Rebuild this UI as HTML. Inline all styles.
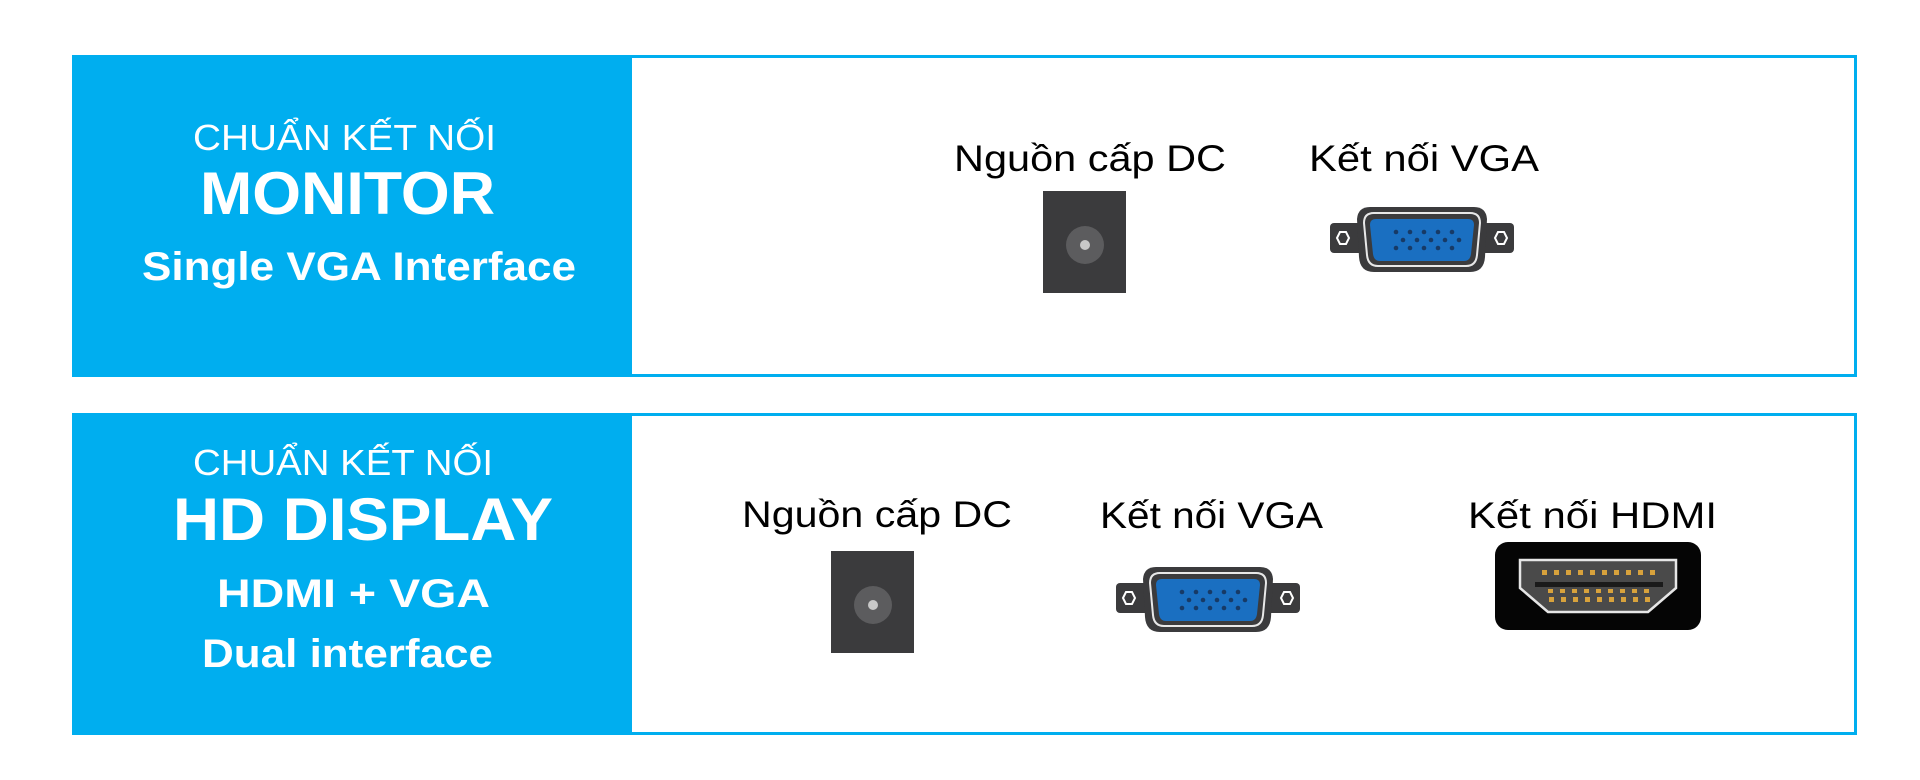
<!DOCTYPE html>
<html><head><meta charset="utf-8"><style>
html,body{margin:0;padding:0;background:#fff;width:1920px;height:780px;overflow:hidden}
svg{display:block}
text{font-family:"Liberation Sans",sans-serif}
</style></head><body>
<svg width="1920" height="780" viewBox="0 0 1920 780" xmlns="http://www.w3.org/2000/svg">
<defs>
<g id="vga">
  <rect x="0" y="16" width="184" height="30" rx="4" fill="#3b3b3d"/>
  <polygon points="7,31 10,25 16,25 19,31 16,37 10,37" fill="none" stroke="#fff" stroke-width="2"/>
  <polygon points="165,31 168,25 174,25 177,31 174,37 168,37" fill="none" stroke="#fff" stroke-width="2"/>
  <path d="M40,0 H144 Q156,0 157,12 L155,50 Q154,65 140,65 H44 Q30,65 29,50 L27,12 Q28,0 40,0 Z" fill="#3b3b3d"/>
  <path d="M44,6 H140 Q150,6 150,16 L147,48 Q146,59 136,59 H48 Q38,59 37,48 L34,16 Q34,6 44,6 Z" fill="none" stroke="#e8e8e8" stroke-width="2"/>
  <path d="M46,12 H138 Q144,12 144,18 L141,47 Q140,54 134,54 H50 Q44,54 43,47 L40,18 Q40,12 46,12 Z" fill="#1a6fc1"/>
  <g fill="#173a66">
    <circle cx="66" cy="25" r="2.3"/><circle cx="80" cy="25" r="2.3"/><circle cx="94" cy="25" r="2.3"/><circle cx="108" cy="25" r="2.3"/><circle cx="122" cy="25" r="2.3"/>
    <circle cx="73" cy="33" r="2.3"/><circle cx="87" cy="33" r="2.3"/><circle cx="101" cy="33" r="2.3"/><circle cx="115" cy="33" r="2.3"/><circle cx="129" cy="33" r="2.3"/>
    <circle cx="66" cy="41" r="2.3"/><circle cx="80" cy="41" r="2.3"/><circle cx="94" cy="41" r="2.3"/><circle cx="108" cy="41" r="2.3"/><circle cx="122" cy="41" r="2.3"/>
  </g>
</g>
<g id="dc">
  <rect x="0" y="0" width="83" height="102" fill="#3b3b3d"/>
  <circle cx="42" cy="54" r="19" fill="#5c5c5e"/>
  <circle cx="42" cy="54" r="5" fill="#c8c8c8"/>
</g>
</defs>

<!-- top panel -->
<rect x="73.5" y="56.5" width="1782" height="319" fill="#fff" stroke="#00aeef" stroke-width="3"/>
<rect x="72" y="55" width="560" height="322" fill="#00aeef"/>
<text x="193" y="150" font-size="36" fill="#fff" textLength="303" lengthAdjust="spacingAndGlyphs">CHUẨN KẾT NỐI</text>
<text x="200" y="214" font-size="60" font-weight="bold" fill="#fff" textLength="295" lengthAdjust="spacingAndGlyphs">MONITOR</text>
<text x="142" y="280" font-size="40" font-weight="bold" fill="#fff" textLength="434" lengthAdjust="spacingAndGlyphs">Single VGA Interface</text>

<text x="954" y="171" font-size="37" fill="#000" textLength="272" lengthAdjust="spacingAndGlyphs">Nguồn cấp DC</text>
<text x="1309" y="171" font-size="37" fill="#000" textLength="230" lengthAdjust="spacingAndGlyphs">Kết nối VGA</text>
<use href="#dc" x="1043" y="191"/>
<use href="#vga" x="1330" y="207"/>

<!-- bottom panel -->
<rect x="73.5" y="414.5" width="1782" height="319" fill="#fff" stroke="#00aeef" stroke-width="3"/>
<rect x="72" y="413" width="560" height="322" fill="#00aeef"/>
<text x="193" y="475" font-size="36" fill="#fff" textLength="300" lengthAdjust="spacingAndGlyphs">CHUẨN KẾT NỐI</text>
<text x="173" y="540" font-size="60" font-weight="bold" fill="#fff" textLength="380" lengthAdjust="spacingAndGlyphs">HD DISPLAY</text>
<text x="217" y="607" font-size="40" font-weight="bold" fill="#fff" textLength="273" lengthAdjust="spacingAndGlyphs">HDMI + VGA</text>
<text x="202" y="667" font-size="40" font-weight="bold" fill="#fff" textLength="291" lengthAdjust="spacingAndGlyphs">Dual interface</text>

<text x="742" y="527" font-size="37" fill="#000" textLength="270" lengthAdjust="spacingAndGlyphs">Nguồn cấp DC</text>
<text x="1100" y="528" font-size="37" fill="#000" textLength="223" lengthAdjust="spacingAndGlyphs">Kết nối VGA</text>
<text x="1468" y="528" font-size="37" fill="#000" textLength="249" lengthAdjust="spacingAndGlyphs">Kết nối HDMI</text>
<use href="#dc" x="831" y="551"/>
<use href="#vga" x="1116" y="567"/>

<!-- HDMI -->
<rect x="1495" y="542" width="206" height="88" rx="13" fill="#050505"/>
<path d="M1520,560 H1676 V588 L1648,612 H1548 L1520,588 Z" fill="#4a4a4a" stroke="#e6e6e6" stroke-width="2.5"/>
<rect x="1535" y="582" width="128" height="5" fill="#1a1a1a"/>
<g fill="#d8a23c">
  <rect x="1542" y="570" width="5" height="5"/><rect x="1554" y="570" width="5" height="5"/><rect x="1566" y="570" width="5" height="5"/><rect x="1578" y="570" width="5" height="5"/><rect x="1590" y="570" width="5" height="5"/><rect x="1602" y="570" width="5" height="5"/><rect x="1614" y="570" width="5" height="5"/><rect x="1626" y="570" width="5" height="5"/><rect x="1638" y="570" width="5" height="5"/><rect x="1650" y="570" width="5" height="5"/>
  <rect x="1548" y="589" width="5" height="4"/><rect x="1560" y="589" width="5" height="4"/><rect x="1572" y="589" width="5" height="4"/><rect x="1584" y="589" width="5" height="4"/><rect x="1596" y="589" width="5" height="4"/><rect x="1608" y="589" width="5" height="4"/><rect x="1620" y="589" width="5" height="4"/><rect x="1632" y="589" width="5" height="4"/><rect x="1644" y="589" width="5" height="4"/>
  <rect x="1549" y="597" width="5" height="5"/><rect x="1561" y="597" width="5" height="5"/><rect x="1573" y="597" width="5" height="5"/><rect x="1585" y="597" width="5" height="5"/><rect x="1597" y="597" width="5" height="5"/><rect x="1609" y="597" width="5" height="5"/><rect x="1621" y="597" width="5" height="5"/><rect x="1633" y="597" width="5" height="5"/><rect x="1645" y="597" width="5" height="5"/>
</g>
</svg>
</body></html>
